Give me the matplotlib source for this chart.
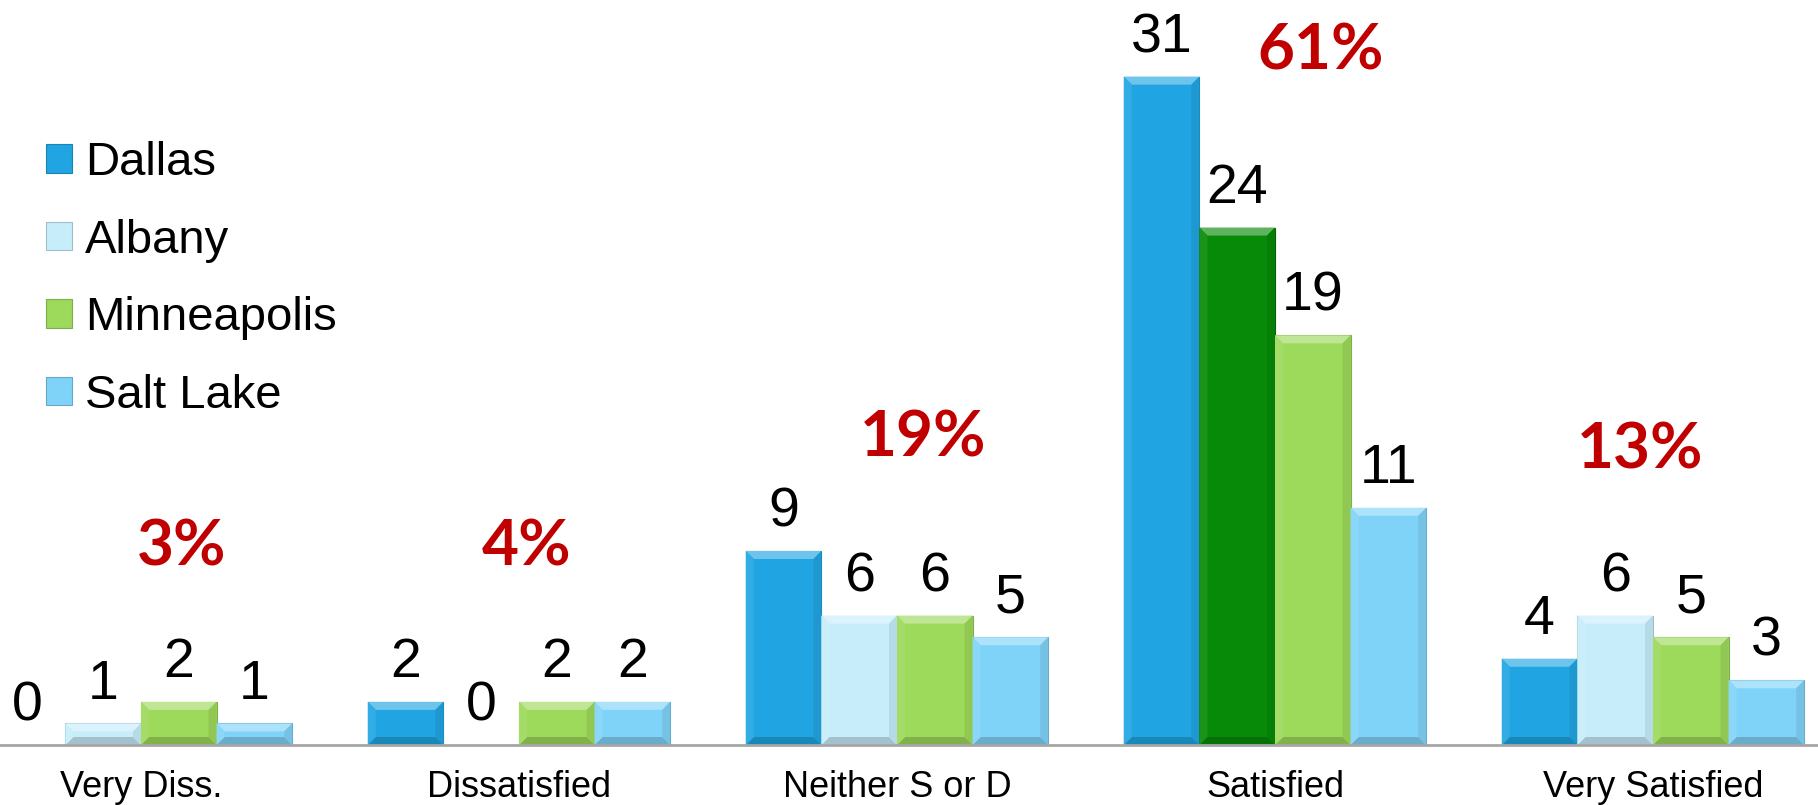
import numpy as np
import matplotlib
matplotlib.use("Agg")
from matplotlib import pyplot as plt
from matplotlib.patches import Polygon, Rectangle
from matplotlib import colors as mcolors

categories = ["Very Diss.", "Dissatisfied", "Neither S or D", "Satisfied", "Very Satisfied"]
cities = ["Dallas", "Albany", "Minneapolis", "Salt Lake"]
dallas = [0, 2, 9, 31, 4]
albany = [1, 0, 6, 24, 6]
minneapolis = [2, 2, 6, 19, 5]
salt_lake = [1, 2, 5, 11, 3]
pct_labels = ["3%", "4%", "19%", "61%", "13%"]

colors = ["#20A5E2", "#C7EDFB", "#9DD95A", "#80D3F8"]
highlight = {(1, 3): "#078A07"}  # Albany / Satisfied drawn dark green

plt.rcParams["font.family"] = ["Liberation Sans", "DejaVu Sans"]

fig = plt.figure(figsize=(18.18, 8.05), dpi=100)
ax = fig.add_axes([-48 / 1818, 60 / 805, 1890 / 1818, 745 / 805])

x = np.arange(len(categories))
w = 0.2
series = [dallas, albany, minneapolis, salt_lake]
containers = []
for i, vals in enumerate(series):
    bc = ax.bar(x + (i - 1.5) * w, vals, w, color=colors[i], label=cities[i],
                edgecolor=mcolors.to_hex(np.array(mcolors.to_rgb(colors[i])) * 0.8), linewidth=0.8)
    for j, r in enumerate(bc):
        if (i, j) in highlight:
            r.set_facecolor(highlight[(i, j)])
            r.set_edgecolor("#056005")
    containers.append(bc)
    ax.bar_label(bc, labels=[str(v) for v in vals], padding=9, fontsize=40)

ax.set_xlim(-0.5, 4.5)
ax.set_ylim(0, 745 / 21.56)
ax.set_xticks(x)
ax.set_xticklabels(categories, fontsize=26)
ax.tick_params(axis="x", length=0, pad=18)
ax.set_yticks([])
for s in ["top", "right", "left"]:
    ax.spines[s].set_visible(False)
ax.spines["bottom"].set_color("#A6A6A6")
ax.spines["bottom"].set_linewidth(2)
ax.patch.set_visible(False)


def mix(c, t, amt):
    a = np.array(mcolors.to_rgb(c))
    b = np.array(mcolors.to_rgb(t))
    return tuple(a + (b - a) * amt)


# bevel shading on each bar
fig.canvas.draw()
bev = 8
for bc in containers:
    for r in bc:
        if r.get_height() <= 0:
            continue
        (x0, y0), (x1, y1) = ax.transData.transform([(r.get_x(), 0), (r.get_x() + r.get_width(), r.get_height())])
        b = min(bev, (y1 - y0) / 2.5)
        fc = r.get_facecolor()
        top = [(x0, y1), (x1, y1), (x1 - b, y1 - b), (x0 + b, y1 - b)]
        bot = [(x0, y0), (x1, y0), (x1 - b, y0 + b), (x0 + b, y0 + b)]
        lft = [(x0, y0), (x0, y1), (x0 + b, y1 - b), (x0 + b, y0 + b)]
        rgt = [(x1, y0), (x1, y1), (x1 - b, y1 - b), (x1 - b, y0 + b)]
        for pts, col in [(top, mix(fc, "white", 0.35)), (bot, mix(fc, "black", 0.18)),
                         (lft, mix(fc, "white", 0.08)), (rgt, mix(fc, "black", 0.08))]:
            ax.add_patch(Polygon(pts, closed=True, facecolor=col, edgecolor="none",
                                 transform=None, zorder=2.5))

# percentage callouts
pct_pos = [(0.107, 9.2), (1.02, 9.2), (2.07, 14.24), (3.12, 32.2), (3.965, 13.7)]
for lab, (px, py) in zip(pct_labels, pct_pos):
    ax.text(px, py, lab, ha="center", va="center", fontsize=46, fontweight="bold",
            color="#C00000", family=["Lato", "DejaVu Sans"])

handles = [Rectangle((0, 0), 1, 1, facecolor=c,
                     edgecolor=mcolors.to_hex(np.array(mcolors.to_rgb(c)) * 0.8), linewidth=0.8)
           for c in colors]
fig.legend(handles, cities, loc="upper left", bbox_to_anchor=(46 / 1818, 1 - 141 / 805),
           frameon=False, fontsize=34, handlelength=0.55, handleheight=0.55,
           handletextpad=0.28, labelspacing=0.71, borderpad=0, borderaxespad=0)

fig.savefig("out.png", dpi=100)
